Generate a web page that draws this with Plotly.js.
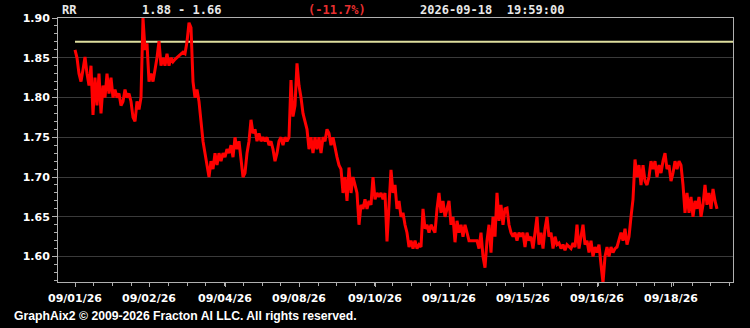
<!DOCTYPE html>
<html>
<head>
<meta charset="utf-8">
<script src="https://cdn.plot.ly/plotly-3.0.1.min.js"></script>
<style>
html,body{margin:0;padding:0;background:#000;}
#chart{width:750px;height:328px;}
</style>
</head>
<body>
<div id="chart"></div>
<script>
// ---- data ----
const symbol = "RR";
const rangeText = "1.88 - 1.66";
const changeText = "(-11.7%)";
const stampText = "2026-09-18\u00a0\u00a019:59:00";
const footerText = "GraphAix2 \u00a9 2009-2026 Fracton AI LLC. All rights reserved.";
const refLevel = 1.87;

const prices = [
  1.860,1.850,1.830,1.820,1.835,1.851,1.830,1.815,1.840,1.778,
  1.825,1.790,1.830,1.780,1.815,1.800,1.830,1.805,1.825,1.800,
  1.810,1.800,1.805,1.790,1.795,1.810,1.800,1.805,1.795,1.775,
  1.770,1.795,1.785,1.800,1.900,1.860,1.868,1.820,1.830,1.820,
  1.835,1.850,1.871,1.840,1.850,1.840,1.855,1.840,1.850,1.845,
  1.848,1.850,1.853,1.855,1.857,1.855,1.870,1.894,1.888,1.820,
  1.800,1.810,1.795,1.770,1.745,1.730,1.715,1.700,1.720,1.710,
  1.730,1.715,1.730,1.720,1.730,1.725,1.735,1.730,1.740,1.725,
  1.750,1.735,1.745,1.720,1.700,1.705,1.730,1.745,1.772,1.755,
  1.760,1.745,1.755,1.745,1.750,1.745,1.750,1.740,1.745,1.735,
  1.720,1.730,1.745,1.750,1.740,1.750,1.745,1.750,1.822,1.776,
  1.790,1.843,1.815,1.800,1.780,1.770,1.760,1.735,1.750,1.730,
  1.750,1.735,1.750,1.730,1.750,1.745,1.760,1.755,1.740,1.750,
  1.735,1.725,1.715,1.710,1.680,1.700,1.670,1.712,1.680,1.700,
  1.690,1.680,1.640,1.665,1.660,1.672,1.660,1.670,1.665,1.700,
  1.672,1.680,1.675,1.680,1.672,1.680,1.619,1.660,1.709,1.680,
  1.690,1.660,1.670,1.650,1.655,1.640,1.630,1.612,1.620,1.610,
  1.620,1.610,1.615,1.612,1.660,1.635,1.640,1.630,1.640,1.635,
  1.630,1.660,1.680,1.655,1.670,1.650,1.660,1.670,1.640,1.650,
  1.618,1.645,1.630,1.640,1.625,1.640,1.630,1.620,1.620,1.620,
  1.620,1.620,1.610,1.630,1.600,1.586,1.620,1.640,1.605,1.650,
  1.625,1.680,1.645,1.665,1.640,1.660,1.661,1.640,1.630,1.625,
  1.630,1.620,1.630,1.625,1.630,1.612,1.630,1.620,1.625,1.610,
  1.630,1.650,1.615,1.630,1.610,1.635,1.650,1.625,1.630,1.610,
  1.625,1.615,1.617,1.610,1.615,1.608,1.615,1.612,1.610,1.617,
  1.612,1.640,1.610,1.625,1.640,1.615,1.620,1.605,1.620,1.600,
  1.612,1.605,1.615,1.590,1.567,1.600,1.612,1.600,1.612,1.605,
  1.610,1.612,1.620,1.630,1.620,1.635,1.615,1.625,1.650,1.672,
  1.722,1.700,1.715,1.690,1.715,1.695,1.690,1.700,1.720,1.710,
  1.720,1.700,1.715,1.705,1.720,1.730,1.710,1.715,1.695,1.705,
  1.720,1.710,1.720,1.715,1.690,1.655,1.680,1.655,1.675,1.650,
  1.670,1.660,1.675,1.650,1.665,1.690,1.665,1.680,1.660,1.685,
  1.670,1.660
];
const dateLabels = ["09/01/26","09/02/26","09/04/26","09/08/26","09/10/26","09/11/26","09/15/26","09/16/26","09/18/26"];
const dateStartIdx = [0,37,75,112,150,187,224,261,298];
const yTicks = [1.60,1.65,1.70,1.75,1.80,1.85,1.90];

// ---- build ----
const idx = prices.map((_, i) => i);
const xMin = -8.5, xMax = 329;

const traces = [
  {x: [0, xMax], y: [refLevel, refLevel], mode: 'lines',
   line: {color: '#dede9e', width: 2}, hoverinfo: 'skip'},
  {x: idx, y: prices, mode: 'lines',
   line: {color: '#ff0000', width: 3}, hoverinfo: 'skip'}
];

const tickFont = {family: 'DejaVu Sans', size: 11, color: '#ffffff', weight: 'bold'};
const monoFont = {family: 'DejaVu Sans Mono', size: 12, color: '#e8e8e8', weight: 'bold'};

const layout = {
  width: 750, height: 328,
  paper_bgcolor: '#000000', plot_bgcolor: '#000000',
  margin: {l: 58, r: 17, t: 18, b: 46},
  showlegend: false,
  xaxis: {
    range: [xMin, xMax], tickmode: 'array', tickvals: dateStartIdx, ticktext: dateLabels,
    showgrid: false, zeroline: false, showline: true, linecolor: '#b0b0b0', linewidth: 1, mirror: true,
    ticks: 'outside', ticklen: 4, tickcolor: '#b0b0b0', tickfont: tickFont, ticklabelstandoff: 2,
    minor: {tick0: 0, dtick: 9.35, ticks: 'outside', ticklen: 3, tickcolor: '#b0b0b0', showgrid: false}
  },
  yaxis: {
    range: [1.568, 1.90], tickmode: 'array', tickvals: yTicks,
    ticktext: yTicks.map(v => v.toFixed(2)),
    showgrid: true, gridcolor: '#3a3a3a', gridwidth: 1,
    zeroline: false, showline: true, linecolor: '#b0b0b0', linewidth: 1, mirror: true,
    ticks: 'outside', ticklen: 5, tickcolor: '#b0b0b0', tickfont: tickFont,
    minor: {tick0: 1.60, dtick: 0.01, ticks: 'outside', ticklen: 3, tickcolor: '#b0b0b0', showgrid: false}
  },
  annotations: [
    {xref: 'paper', yref: 'paper', x: 0.003, y: 1.03, xanchor: 'left', yanchor: 'middle',
     text: symbol, showarrow: false, font: monoFont},
    {xref: 'paper', yref: 'paper', x: 0.121, y: 1.03, xanchor: 'left', yanchor: 'middle',
     text: rangeText, showarrow: false, font: monoFont},
    {xref: 'paper', yref: 'paper', x: 0.367, y: 1.03, xanchor: 'left', yanchor: 'middle',
     text: changeText, showarrow: false, font: Object.assign({}, monoFont, {color: '#e83030'})},
    {xref: 'paper', yref: 'paper', x: 0.534, y: 1.03, xanchor: 'left', yanchor: 'middle',
     text: stampText, showarrow: false, font: monoFont},
    {xref: 'paper', yref: 'paper', x: -0.068, y: -0.129, xanchor: 'left', yanchor: 'middle',
     text: footerText, showarrow: false,
     font: {family: 'Liberation Sans', size: 12.2, color: '#ffffff', weight: 'bold'}}
  ]
};

Plotly.newPlot('chart', traces, layout, {staticPlot: true, displayModeBar: false});
</script>
</body>
</html>
